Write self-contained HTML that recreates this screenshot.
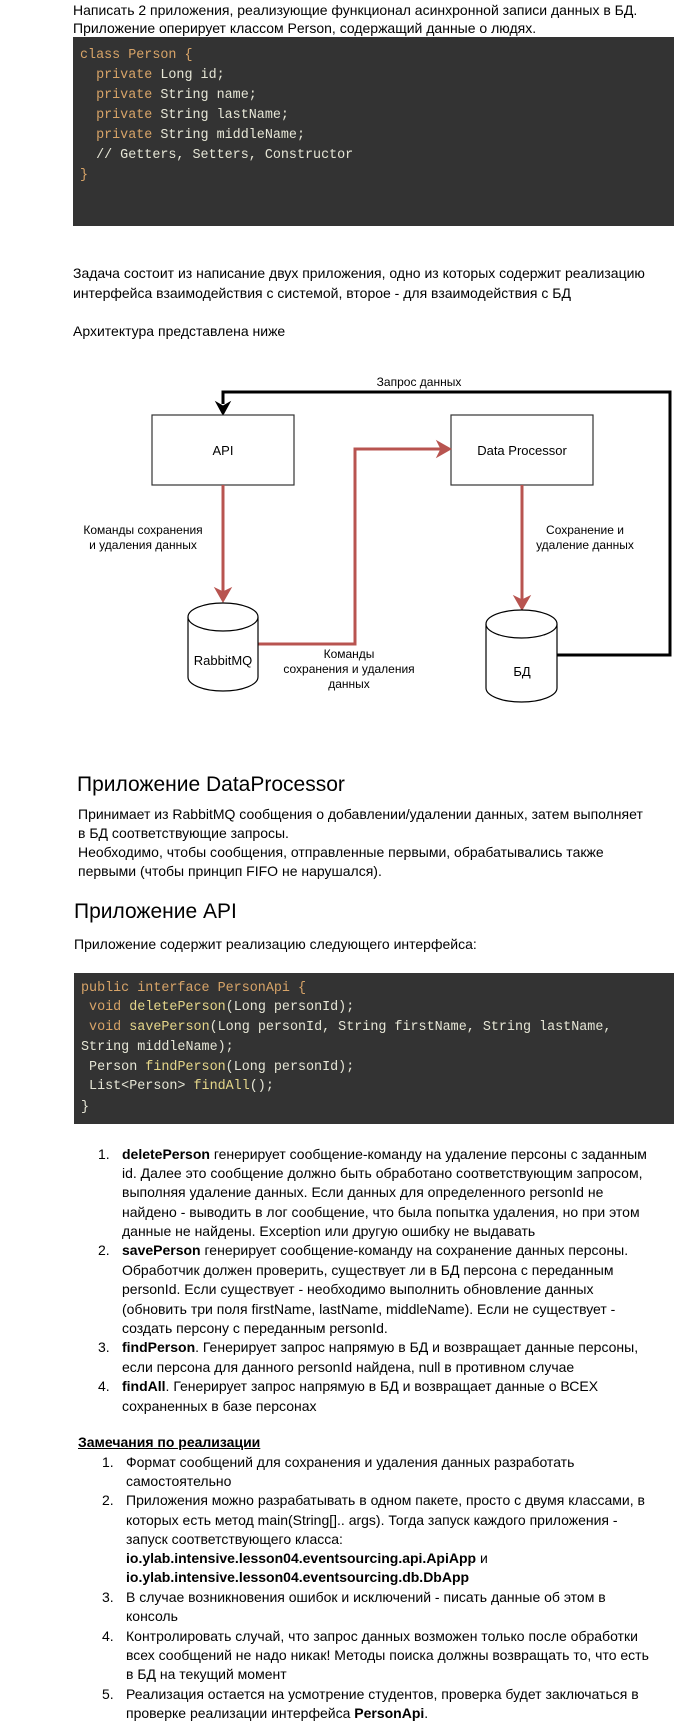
<!DOCTYPE html>
<html><head><meta charset="utf-8">
<style>
body{margin:0;background:#fff;}
#p{position:relative;width:678px;height:1729px;overflow:hidden;font-family:"Liberation Sans","Noto Sans CJK SC",sans-serif;color:#000;}
.l{position:absolute;white-space:nowrap;font-size:14px;line-height:20px;}
.h{position:absolute;white-space:nowrap;font-size:21px;line-height:26px;}
.code{position:absolute;background:#333;}
.c{position:absolute;white-space:nowrap;font-family:"Liberation Mono",monospace;font-size:13.4px;line-height:20px;color:#e6e6d6;}
.k{color:#d8a468}.m{color:#e6d78a}
.n{position:absolute;font-size:14px;line-height:20px;}
</style></head><body><div id="p">
<div class="l" style="left:73px;top:0px">Написать 2 приложения, реализующие функционал асинхронной записи данных в БД.</div>
<div class="l" style="left:73px;top:18px">Приложение оперирует классом Person, содержащий данные о людях.</div>
<div class="code" style="left:73px;top:37px;width:601px;height:189px"></div>
<div class="c" style="left:80px;top:46px"><span class="k">class Person {</span></div>
<div class="c" style="left:80px;top:66px">&nbsp;&nbsp;<span class="k">private</span> Long id;</div>
<div class="c" style="left:80px;top:86px">&nbsp;&nbsp;<span class="k">private</span> String name;</div>
<div class="c" style="left:80px;top:106px">&nbsp;&nbsp;<span class="k">private</span> String lastName;</div>
<div class="c" style="left:80px;top:126px">&nbsp;&nbsp;<span class="k">private</span> String middleName;</div>
<div class="c" style="left:80px;top:146px">&nbsp;&nbsp;// Getters, Setters, Constructor</div>
<div class="c" style="left:80px;top:166px"><span class="k">}</span></div>

<div class="l" style="left:73px;top:263px">Задача состоит из написание двух приложения, одно из которых содержит реализацию</div>
<div class="l" style="left:73px;top:283px">интерфейса взаимодействия с системой, второе - для взаимодействия с БД</div>
<div class="l" style="left:73px;top:321px">Архитектура представлена ниже</div>

<svg style="position:absolute;left:0;top:0" width="678" height="760">
<g fill="none" stroke-linejoin="miter">
<polyline points="557,655 670,655 670,392 223,392 223,404" stroke="#000" stroke-width="3"/>
<polygon points="216,402 223,415 230,402 223,406" fill="#000" stroke="#000" stroke-width="1"/>
<rect x="152" y="415" width="142" height="70" stroke="#333" stroke-width="1.2" fill="#fff"/>
<rect x="451" y="415" width="142" height="70" stroke="#333" stroke-width="1.2" fill="#fff"/>
<line x1="223" y1="485" x2="223" y2="592" stroke="#b85450" stroke-width="3"/>
<polygon points="215,588 223,602 231,588 223,592" fill="#b85450" stroke="#b85450"/>
<polyline points="258,644 355,644 355,449 441,449" stroke="#b85450" stroke-width="3"/>
<polygon points="437,441 451,449 437,457 441,449" fill="#b85450" stroke="#b85450"/>
<line x1="522" y1="485" x2="522" y2="600" stroke="#b85450" stroke-width="3"/>
<polygon points="514,596 522,610 530,596 522,600" fill="#b85450" stroke="#b85450"/>
<path d="M188,617 L188,677 A35,14 0 0 0 258,677 L258,617" fill="#fff" stroke="#000" stroke-width="1.2"/>
<ellipse cx="223" cy="617" rx="35" ry="14" fill="#fff" stroke="#000" stroke-width="1.2"/>
<path d="M486,624 L486,688 A35.5,14 0 0 0 557,688 L557,624" fill="#fff" stroke="#000" stroke-width="1.2"/>
<ellipse cx="521.5" cy="624" rx="35.5" ry="14" fill="#fff" stroke="#000" stroke-width="1.2"/>
</g>
<g font-family="Liberation Sans, sans-serif" font-size="12" fill="#000" text-anchor="middle">
<text x="419" y="386">Запрос данных</text>
<text x="223" y="455" font-size="13">API</text>
<text x="522" y="455" font-size="13">Data Processor</text>
<text x="143" y="534">Команды сохранения</text>
<text x="143" y="549">и удаления данных</text>
<text x="585" y="534">Сохранение и</text>
<text x="585" y="549">удаление данных</text>
<text x="223" y="665" font-size="13">RabbitMQ</text>
<text x="349" y="658">Команды</text>
<text x="349" y="673">сохранения и удаления</text>
<text x="349" y="688">данных</text>
<text x="522" y="676" font-size="13">БД</text>
</g>
</svg>

<div class="h" style="left:77px;top:772px">Приложение DataProcessor</div>
<div class="l" style="left:78px;top:804px">Принимает из RabbitMQ сообщения о добавлении/удалении данных, затем выполняет</div>
<div class="l" style="left:78px;top:823px">в БД соответствующие запросы.</div>
<div class="l" style="left:78px;top:842px">Необходимо, чтобы сообщения, отправленные первыми, обрабатывались также</div>
<div class="l" style="left:78px;top:861px">первыми (чтобы принцип FIFO не нарушался).</div>

<div class="h" style="left:74px;top:899px">Приложение API</div>
<div class="l" style="left:74px;top:934px">Приложение содержит реализацию следующего интерфейса:</div>
<div class="code" style="left:74px;top:973px;width:600px;height:151px"></div>
<div class="c" style="left:81px;top:979px"><span class="k">public interface PersonApi {</span></div>
<div class="c" style="left:81px;top:998px">&nbsp;<span class="k">void</span> <span class="m">deletePerson</span>(Long personId);</div>
<div class="c" style="left:81px;top:1018px">&nbsp;<span class="k">void</span> <span class="m">savePerson</span>(Long personId, String firstName, String lastName,</div>
<div class="c" style="left:81px;top:1038px">String middleName);</div>
<div class="c" style="left:81px;top:1058px">&nbsp;Person <span class="m">findPerson</span>(Long personId);</div>
<div class="c" style="left:81px;top:1077px">&nbsp;List&lt;Person&gt; <span class="m">findAll</span>();</div>
<div class="c" style="left:81px;top:1098px">}</div>

<div class="n" style="left:98px;top:1144px">1.</div>
<div class="l" style="left:122px;top:1144px"><b>deletePerson</b> генерирует сообщение-команду на удаление персоны с заданным</div>
<div class="l" style="left:122px;top:1163px">id. Далее это сообщение должно быть обработано соответствующим запросом,</div>
<div class="l" style="left:122px;top:1182px">выполняя удаление данных. Если данных для определенного personId не</div>
<div class="l" style="left:122px;top:1202px">найдено - выводить в лог сообщение, что была попытка удаления, но при этом</div>
<div class="l" style="left:122px;top:1221px">данные не найдены. Exception или другую ошибку не выдавать</div>
<div class="n" style="left:98px;top:1240px">2.</div>
<div class="l" style="left:122px;top:1240px"><b>savePerson</b> генерирует сообщение-команду на сохранение данных персоны.</div>
<div class="l" style="left:122px;top:1260px">Обработчик должен проверить, существует ли в БД персона с переданным</div>
<div class="l" style="left:122px;top:1279px">personId. Если существует - необходимо выполнить обновление данных</div>
<div class="l" style="left:122px;top:1299px">(обновить три поля firstName, lastName, middleName). Если не существует -</div>
<div class="l" style="left:122px;top:1318px">создать персону с переданным personId.</div>
<div class="n" style="left:98px;top:1337px">3.</div>
<div class="l" style="left:122px;top:1337px"><b>findPerson</b>. Генерирует запрос напрямую в БД и возвращает данные персоны,</div>
<div class="l" style="left:122px;top:1357px">если персона для данного personId найдена, null в противном случае</div>
<div class="n" style="left:98px;top:1376px">4.</div>
<div class="l" style="left:122px;top:1376px"><b>findAll</b>. Генерирует запрос напрямую в БД и возвращает данные о ВСЕХ</div>
<div class="l" style="left:122px;top:1396px">сохраненных в базе персонах</div>

<div class="l" style="left:78px;top:1432px"><b><u>Замечания по реализации</u></b></div>
<div class="n" style="left:102px;top:1452px">1.</div>
<div class="l" style="left:126px;top:1452px">Формат сообщений для сохранения и удаления данных разработать</div>
<div class="l" style="left:126px;top:1471px">самостоятельно</div>
<div class="n" style="left:102px;top:1490px">2.</div>
<div class="l" style="left:126px;top:1490px">Приложения можно разрабатывать в одном пакете, просто с двумя классами, в</div>
<div class="l" style="left:126px;top:1510px">которых есть метод main(String[].. args). Тогда запуск каждого приложения -</div>
<div class="l" style="left:126px;top:1529px">запуск соответствующего класса:</div>
<div class="l" style="left:126px;top:1548px"><b>io.ylab.intensive.lesson04.eventsourcing.api.ApiApp</b> и</div>
<div class="l" style="left:126px;top:1567px"><b>io.ylab.intensive.lesson04.eventsourcing.db.DbApp</b></div>
<div class="n" style="left:102px;top:1587px">3.</div>
<div class="l" style="left:126px;top:1587px">В случае возникновения ошибок и исключений - писать данные об этом в</div>
<div class="l" style="left:126px;top:1606px">консоль</div>
<div class="n" style="left:102px;top:1626px">4.</div>
<div class="l" style="left:126px;top:1626px">Контролировать случай, что запрос данных возможен только после обработки</div>
<div class="l" style="left:126px;top:1645px">всех сообщений не надо никак! Методы поиска должны возвращать то, что есть</div>
<div class="l" style="left:126px;top:1664px">в БД на текущий момент</div>
<div class="n" style="left:102px;top:1684px">5.</div>
<div class="l" style="left:126px;top:1684px">Реализация остается на усмотрение студентов, проверка будет заключаться в</div>
<div class="l" style="left:126px;top:1703px">проверке реализации интерфейса <b>PersonApi</b>.</div>
</div></body></html>
